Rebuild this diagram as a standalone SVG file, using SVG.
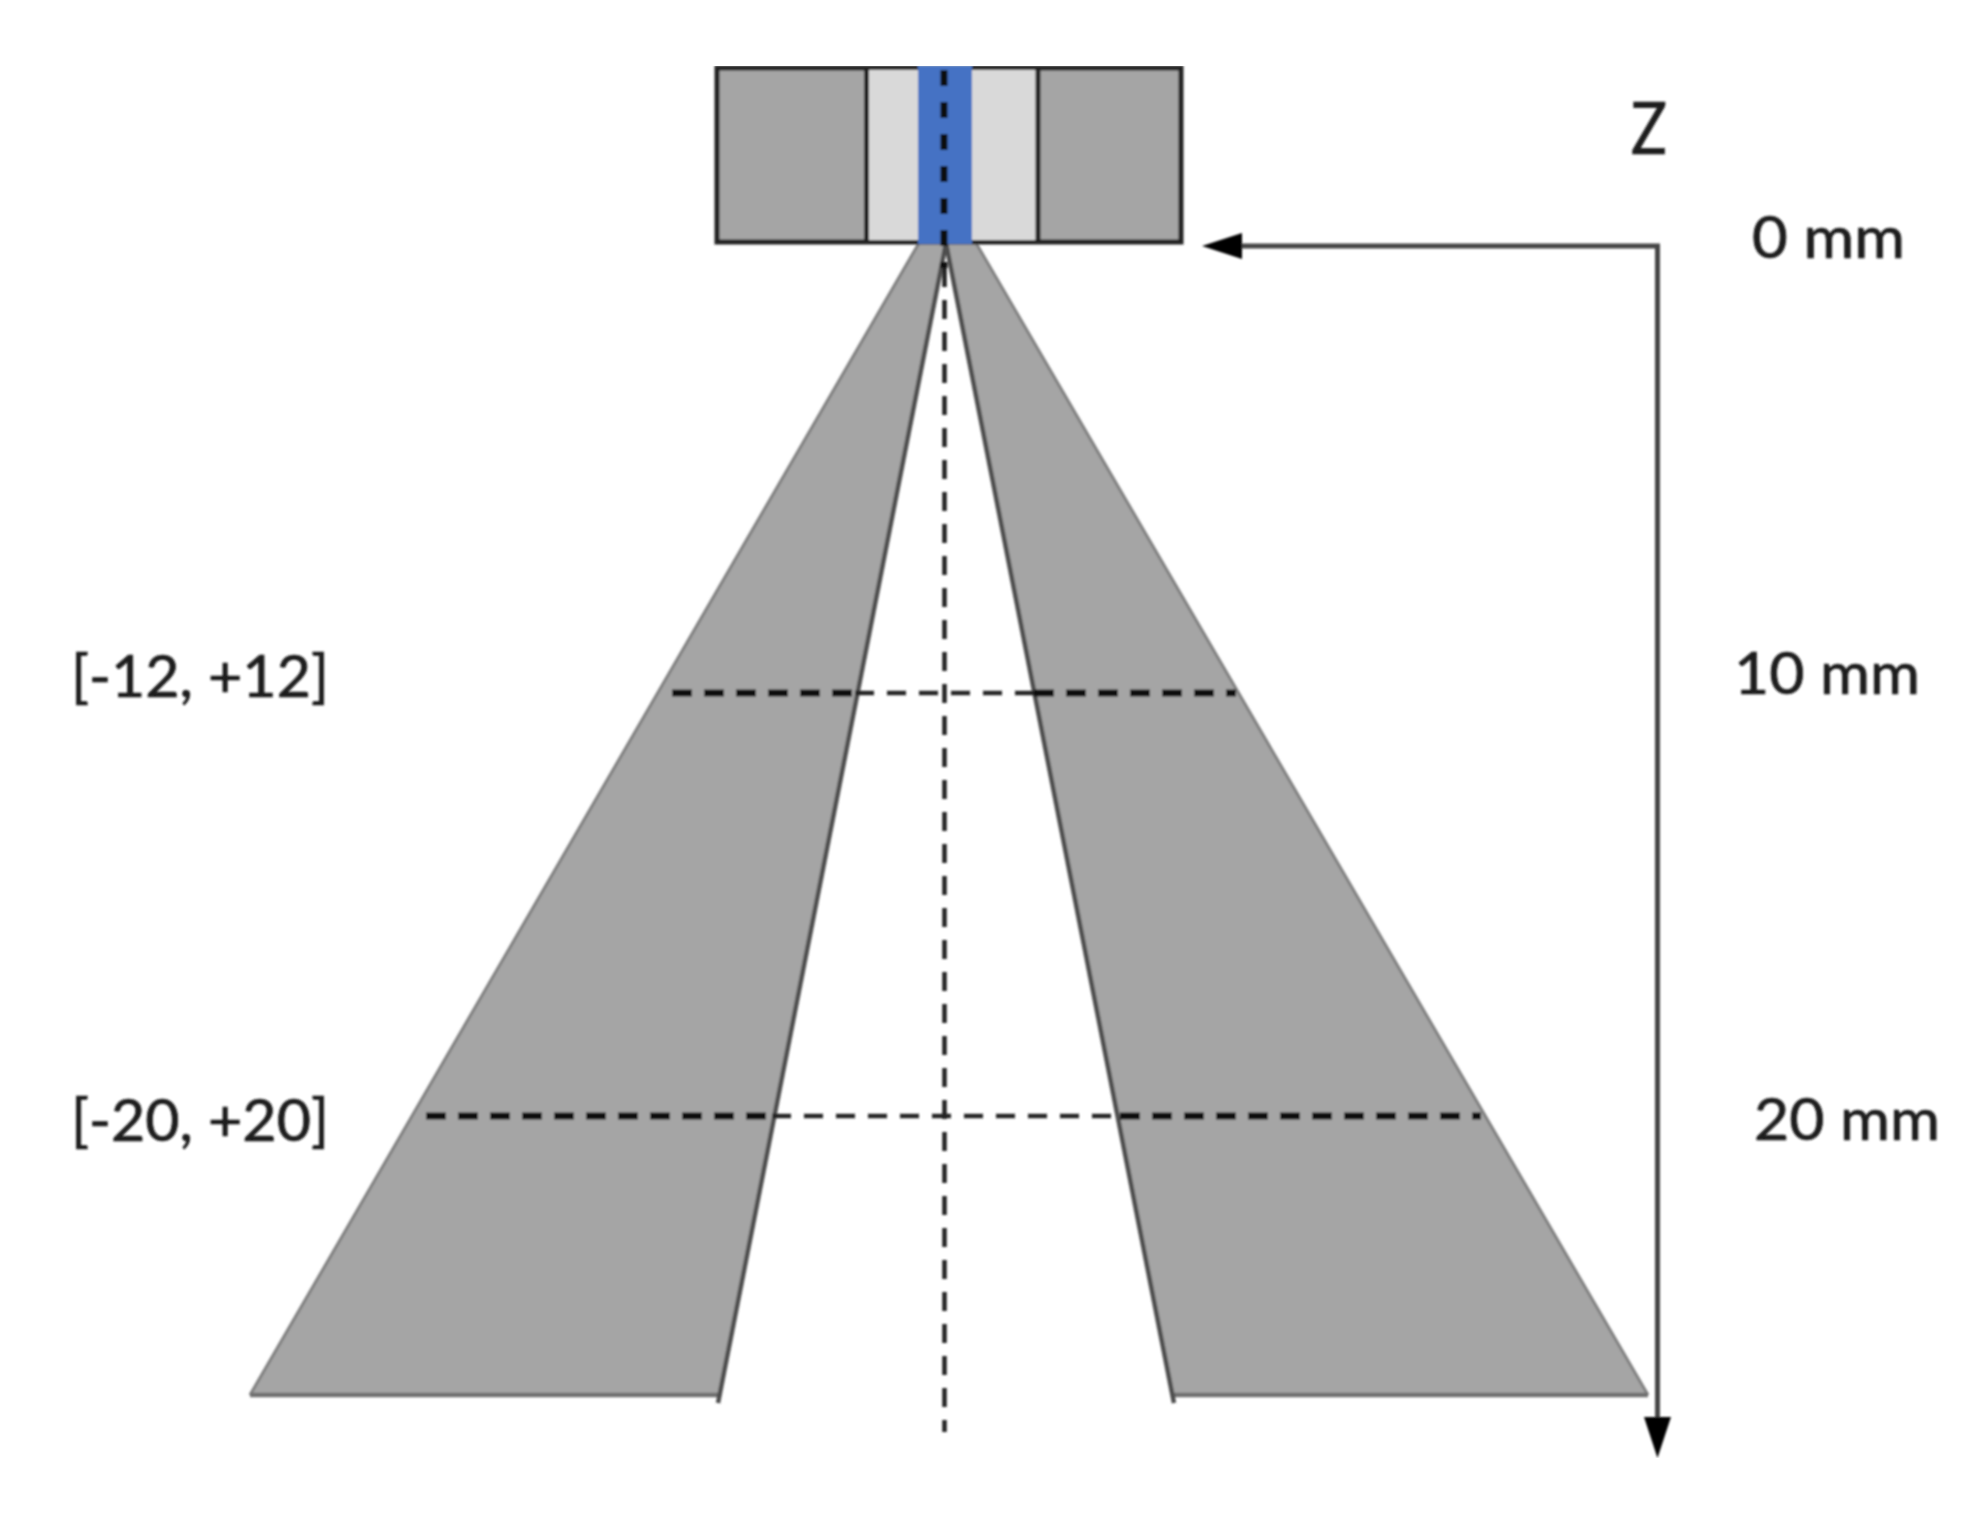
<svg xmlns="http://www.w3.org/2000/svg" width="1967" height="1516" viewBox="0 0 1967 1516">
<style>
.lb{font-family:"Lato","Carlito","Liberation Sans",sans-serif;fill:#1a1a1a;font-size:58px;stroke:#1a1a1a;stroke-width:0.7}
.box{stroke:#222;stroke-width:5;fill:#a5a5a5}
.wedge{fill:#a5a5a5;stroke:none}
.outer{stroke:#7f7f7f;stroke-width:3;fill:none}
.inner{stroke:#4d4d4d;stroke-width:4.5;fill:none}
.base{stroke:#6f6f6f;stroke-width:4.5;fill:none}
.axis{stroke:#444;stroke-width:5;fill:none}
.heavy{stroke:#111;stroke-width:7;stroke-dasharray:20 12;fill:none}
.thin{stroke:#222;stroke-width:4.5;stroke-dasharray:19 13;fill:none}
.tip{fill:#000}
</style>
<defs><filter id="soft" x="0" y="0" width="100%" height="100%"><feGaussianBlur stdDeviation="0.8"/></filter></defs>
<rect width="1967" height="1516" fill="#fff"/>
<g filter="url(#soft)">
<g id="beam-left">
<polygon class="wedge" points="919,243 946,243 718,1395 250,1395"/>
<path class="outer" d="M919,243 L250,1395"/>
<path class="base" d="M250,1395 L718,1395"/>
<path class="inner" d="M946,243 L718,1403"/>
</g>
<g id="beam-right">
<polygon class="wedge" points="946,243 976,243 1648,1395 1174,1395"/>
<path class="outer" d="M976,243 L1648,1395"/>
<path class="base" d="M1174,1395 L1648,1395"/>
<path class="inner" d="M946,243 L1174,1403"/>
</g>
<g id="probe">
<rect class="box" x="717" y="68" width="464" height="174"/>
<rect x="868" y="70" width="168" height="170" fill="#d9d9d9"/>
<path d="M866.500,68 V242 M1038,68 V242" stroke="#222" stroke-width="5"/>
<rect x="918" y="66" width="54" height="178" fill="#4472c4"/>
</g>
<g id="connectors">
<path class="heavy" d="M944,70 V268" style="stroke-dasharray:16 16"/>
<path class="thin" d="M944.500,268 V1432"/>
<path class="heavy" d="M672,693 H855"/>
<path class="thin" d="M855,693 H1034"/>
<path class="heavy" d="M1034,693 H1236"/>
<path class="heavy" d="M426,1116 H772"/>
<path class="thin" d="M772,1116 H1120"/>
<path class="heavy" d="M1120,1116 H1481"/>
<path class="axis" d="M1238,246 H1657.500 V1420"/>
<polygon class="tip" points="1202,246 1242,233 1242,259"/>
<polygon class="tip" points="1657.500,1458 1644,1417 1671,1417"/>
</g>
<g id="labels">
<text class="lb" x="1631" y="154" style="font-size:72px" textLength="36" lengthAdjust="spacingAndGlyphs">Z</text>
<text class="lb" x="1752" y="258" textLength="153" lengthAdjust="spacingAndGlyphs">0 mm</text>
<text class="lb" x="1734" y="694" textLength="186" lengthAdjust="spacingAndGlyphs">10 mm</text>
<text class="lb" x="1754" y="1140" textLength="186" lengthAdjust="spacingAndGlyphs">20 mm</text>
<text class="lb" x="71" y="697" textLength="258" lengthAdjust="spacingAndGlyphs">[-12, +12]</text>
<text class="lb" x="71" y="1141" textLength="258" lengthAdjust="spacingAndGlyphs">[-20, +20]</text>
</g>
</g>
</svg>
